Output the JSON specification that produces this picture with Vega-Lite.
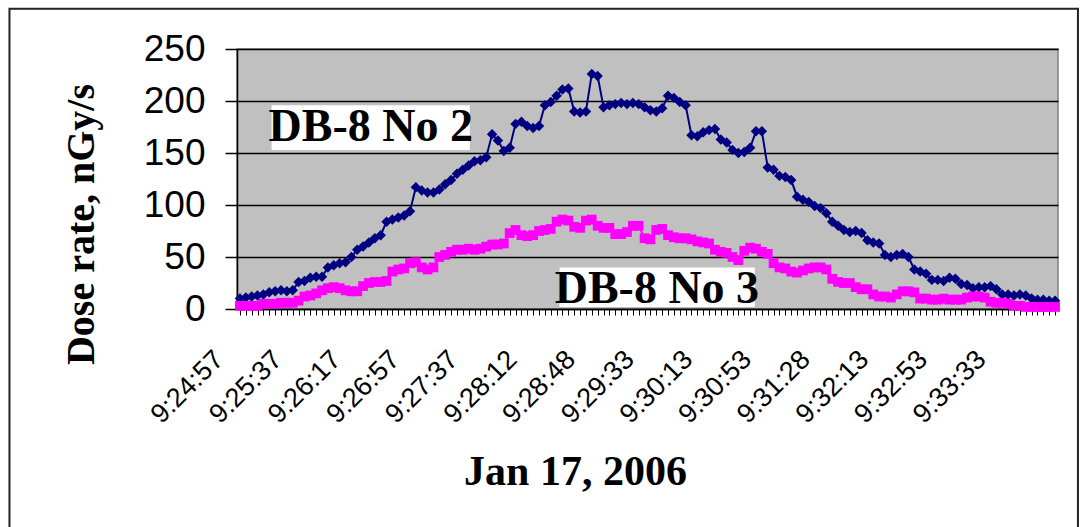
{
  "$schema": "https://vega.github.io/schema/vega-lite/v6.json",
  "autosize": "none",
  "width": 821,
  "height": 260,
  "padding": {"left": 237, "top": 49, "right": 33, "bottom": 218},
  "background": "white",
  "config": {"view": {"fill": "#C0C0C0", "stroke": "#808080", "strokeWidth": 1.5}},
  "datasets": {
    "dose": [
      {"i":0,"no2":10,"no3":3},{"i":1,"no2":11,"no3":3},{"i":2,"no2":12,"no3":3},{"i":3,"no2":13,"no3":3},{"i":4,"no2":14,"no3":5},
      {"i":5,"no2":16,"no3":5},{"i":6,"no2":17,"no3":5},{"i":7,"no2":18,"no3":6},{"i":8,"no2":17,"no3":6},{"i":9,"no2":18,"no3":6},
      {"i":10,"no2":26,"no3":8},{"i":11,"no2":27,"no3":12},{"i":12,"no2":30,"no3":13},{"i":13,"no2":31,"no3":15},{"i":14,"no2":31,"no3":18},
      {"i":15,"no2":40,"no3":20},{"i":16,"no2":42,"no3":21},{"i":17,"no2":44,"no3":20},{"i":18,"no2":45,"no3":18},{"i":19,"no2":50,"no3":17},
      {"i":20,"no2":57,"no3":17},{"i":21,"no2":60,"no3":22},{"i":22,"no2":64,"no3":25},{"i":23,"no2":68,"no3":26},{"i":24,"no2":71,"no3":26},
      {"i":25,"no2":84,"no3":27},{"i":26,"no2":86,"no3":36},{"i":27,"no2":88,"no3":38},{"i":28,"no2":90,"no3":39},{"i":29,"no2":94,"no3":44},
      {"i":30,"no2":117,"no3":45},{"i":31,"no2":114,"no3":40},{"i":32,"no2":112,"no3":38},{"i":33,"no2":112,"no3":40},{"i":34,"no2":115,"no3":50},
      {"i":35,"no2":120,"no3":52},{"i":36,"no2":124,"no3":55},{"i":37,"no2":130,"no3":57},{"i":38,"no2":134,"no3":57},{"i":39,"no2":138,"no3":58},
      {"i":40,"no2":142,"no3":57},{"i":41,"no2":143,"no3":58},{"i":42,"no2":146,"no3":60},{"i":43,"no2":168,"no3":62},{"i":44,"no2":162,"no3":62},
      {"i":45,"no2":152,"no3":63},{"i":46,"no2":155,"no3":73},{"i":47,"no2":178,"no3":76},{"i":48,"no2":180,"no3":71},{"i":49,"no2":176,"no3":70},
      {"i":50,"no2":174,"no3":71},{"i":51,"no2":176,"no3":75},{"i":52,"no2":196,"no3":76},{"i":53,"no2":199,"no3":77},{"i":54,"no2":205,"no3":84},
      {"i":55,"no2":211,"no3":86},{"i":56,"no2":212,"no3":85},{"i":57,"no2":190,"no3":79},{"i":58,"no2":189,"no3":78},{"i":59,"no2":190,"no3":85},
      {"i":60,"no2":226,"no3":86},{"i":61,"no2":224,"no3":80},{"i":62,"no2":194,"no3":78},{"i":63,"no2":196,"no3":78},{"i":64,"no2":197,"no3":72},
      {"i":65,"no2":198,"no3":72},{"i":66,"no2":197,"no3":74},{"i":67,"no2":198,"no3":80},{"i":68,"no2":197,"no3":80},{"i":69,"no2":194,"no3":68},
      {"i":70,"no2":191,"no3":67},{"i":71,"no2":190,"no3":76},{"i":72,"no2":193,"no3":77},{"i":73,"no2":205,"no3":71},{"i":74,"no2":203,"no3":69},
      {"i":75,"no2":199,"no3":68},{"i":76,"no2":196,"no3":68},{"i":77,"no2":167,"no3":67},{"i":78,"no2":166,"no3":65},{"i":79,"no2":170,"no3":64},
      {"i":80,"no2":172,"no3":63},{"i":81,"no2":173,"no3":57},{"i":82,"no2":163,"no3":55},{"i":83,"no2":160,"no3":54},{"i":84,"no2":153,"no3":50},
      {"i":85,"no2":150,"no3":47},{"i":86,"no2":151,"no3":56},{"i":87,"no2":155,"no3":59},{"i":88,"no2":171,"no3":58},{"i":89,"no2":171,"no3":55},
      {"i":90,"no2":136,"no3":53},{"i":91,"no2":134,"no3":44},{"i":92,"no2":128,"no3":40},{"i":93,"no2":127,"no3":39},{"i":94,"no2":124,"no3":36},
      {"i":95,"no2":108,"no3":35},{"i":96,"no2":105,"no3":37},{"i":97,"no2":103,"no3":39},{"i":98,"no2":99,"no3":40},{"i":99,"no2":97,"no3":40},
      {"i":100,"no2":92,"no3":38},{"i":101,"no2":84,"no3":29},{"i":102,"no2":80,"no3":26},{"i":103,"no2":76,"no3":25},{"i":104,"no2":74,"no3":25},
      {"i":105,"no2":75,"no3":21},{"i":106,"no2":73,"no3":19},{"i":107,"no2":66,"no3":19},{"i":108,"no2":64,"no3":14},{"i":109,"no2":63,"no3":12},
      {"i":110,"no2":52,"no3":12},{"i":111,"no2":50,"no3":11},{"i":112,"no2":52,"no3":14},{"i":113,"no2":53,"no3":17},{"i":114,"no2":50,"no3":17},
      {"i":115,"no2":38,"no3":16},{"i":116,"no2":36,"no3":10},{"i":117,"no2":34,"no3":10},{"i":118,"no2":28,"no3":9},{"i":119,"no2":28,"no3":9},
      {"i":120,"no2":27,"no3":10},{"i":121,"no2":30,"no3":9},{"i":122,"no2":29,"no3":9},{"i":123,"no2":24,"no3":9},{"i":124,"no2":23,"no3":11},
      {"i":125,"no2":20,"no3":12},{"i":126,"no2":21,"no3":12},{"i":127,"no2":21,"no3":11},{"i":128,"no2":22,"no3":7},{"i":129,"no2":19,"no3":6},
      {"i":130,"no2":14,"no3":6},{"i":131,"no2":14,"no3":5},{"i":132,"no2":13,"no3":3},{"i":133,"no2":14,"no3":3},{"i":134,"no2":13,"no3":2},
      {"i":135,"no2":10,"no3":2},{"i":136,"no2":9,"no3":2},{"i":137,"no2":9,"no3":2},{"i":138,"no2":8,"no3":2},{"i":139,"no2":8,"no3":2}
    ],
    "frame": [
      {"i": -39.3, "i2": 142.9, "v": 288.7, "v2": -222}
    ],
    "boxes": [
      {"i": 5.4, "i2": 39.2, "v": 153, "v2": 196},
      {"i": 54.5, "i2": 87.8, "v": 2, "v2": 40}
    ],
    "labels": [
      {"i": 22.3, "v": 174.8, "label": "DB-8 No 2"},
      {"i": 71.1, "v": 19, "label": "DB-8 No 3"}
    ]
  },
  "encoding": {
    "x": {
      "field": "i",
      "type": "quantitative",
      "scale": {"domain": [-0.5, 139.5], "nice": false, "zero": false},
      "axis": {
        "title": "Jan 17, 2006",
        "grid": false,
        "tickCount": 140,
        "domainColor": "black",
        "domainWidth": 1.5,
        "tickColor": "black",
        "tickSize": 6,
        "tickWidth": 1,
        "labelAngle": -45,
        "labelAlign": "right",
        "labelBaseline": "middle",
        "labelPadding": 40,
        "labelOffset": -21,
        "labelOverlap": false,
        "labelBound": false,
        "labelFlush": false,
        "labelFont": "Liberation Sans",
        "labelFontSize": 27,
        "labelColor": "black",
        "labelExpr": "datum.value % 10 === 0 ? ['9:24:57','9:25:37','9:26:17','9:26:57','9:27:37','9:28:12','9:28:48','9:29:33','9:30:13','9:30:53','9:31:28','9:32:13','9:32:53','9:33:33'][datum.value / 10] : ''",
        "titleFont": "Liberation Serif",
        "titleFontWeight": "bold",
        "titleFontSize": 42,
        "titleColor": "black",
        "titleX": 338,
        "titleY": 175,
        "titleAlign": "center",
        "titleBaseline": "alphabetic"
      }
    },
    "y": {
      "field": "v",
      "type": "quantitative",
      "scale": {"domain": [0, 250], "nice": false},
      "axis": {
        "title": "Dose rate, nGy/s",
        "values": [0, 50, 100, 150, 200, 250],
        "grid": true,
        "gridColor": "black",
        "gridWidth": 1.5,
        "domainColor": "black",
        "domainWidth": 1.5,
        "tickColor": "black",
        "tickSize": 12,
        "tickWidth": 1.5,
        "labelPadding": 20,
        "labelFlush": false,
        "labelFont": "Liberation Sans",
        "labelFontSize": 37,
        "labelColor": "black",
        "titleFont": "Liberation Serif",
        "titleFontWeight": "bold",
        "titleFontSize": 40,
        "titleColor": "black",
        "titleAngle": -90,
        "titleX": -144,
        "titleY": 175,
        "titleAlign": "center",
        "titleBaseline": "alphabetic"
      }
    }
  },
  "layer": [
    {
      "data": {"name": "frame"},
      "mark": {"type": "rect", "filled": false, "stroke": "#222222", "strokeWidth": 2, "clip": false},
      "encoding": {"x2": {"field": "i2"}, "y2": {"field": "v2"}}
    },
    {
      "data": {"name": "dose"},
      "transform": [{"fold": ["no2", "no3"], "as": ["series", "v"]}],
      "layer": [
        {
          "transform": [{"filter": "datum.series === 'no2'"}],
          "mark": {"type": "line", "color": "#000080", "strokeWidth": 2},
          "encoding": {}
        },
        {
          "transform": [{"filter": "datum.series === 'no2'"}],
          "mark": {"type": "point", "shape": "diamond", "filled": true, "color": "#000080", "size": 110, "opacity": 1}
        },
        {
          "transform": [{"filter": "datum.series === 'no3'"}],
          "mark": {"type": "line", "color": "#FF00FF", "strokeWidth": 2},
          "encoding": {}
        },
        {
          "transform": [{"filter": "datum.series === 'no3'"}],
          "mark": {"type": "point", "shape": "square", "filled": true, "color": "#FF00FF", "size": 95, "opacity": 1}
        }
      ]
    },
    {
      "data": {"name": "boxes"},
      "mark": {"type": "rect", "color": "white"},
      "encoding": {"x2": {"field": "i2"}, "y2": {"field": "v2"}}
    },
    {
      "data": {"name": "labels"},
      "mark": {"type": "text", "font": "Liberation Serif", "fontWeight": "bold", "fontSize": 46, "color": "black", "align": "center", "baseline": "middle"},
      "encoding": {"text": {"field": "label"}}
    }
  ]
}
